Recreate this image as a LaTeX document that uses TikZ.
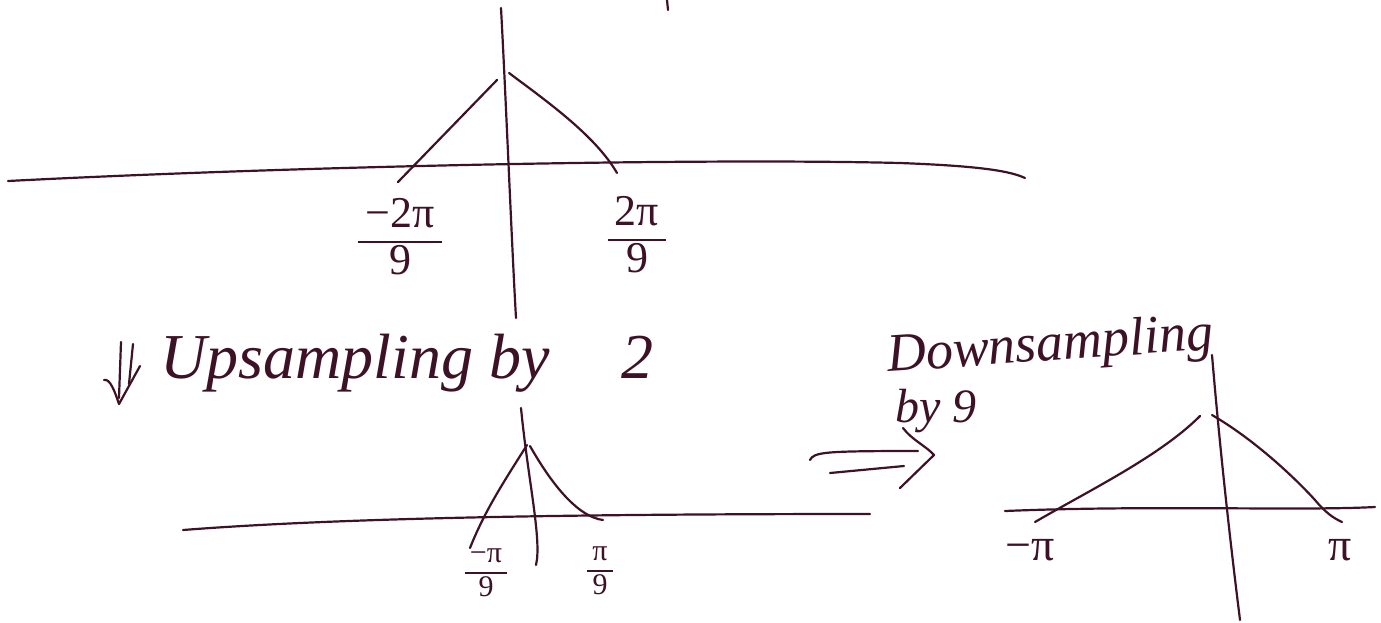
\documentclass[tikz,border=0pt]{standalone}
\usepackage{fontspec}
\setmainfont{Liberation Serif}
\definecolor{ink}{RGB}{62,18,38}
\newcommand\hfrac[2]{\setlength\arrayrulewidth{2pt}\renewcommand\arraystretch{0.95}\begin{tabular}{@{\,}c@{\,}}#1\\\hline #2\end{tabular}}
\begin{document}
\begin{tikzpicture}[x=1pt,y=-1pt,
  stroke/.style={draw=ink, line width=2.2pt, line cap=round, line join=round},
  lbl/.style={text=ink, inner sep=0pt},
  bigtext/.style={lbl, font=\fontsize{64}{70}\selectfont\itshape},
  midtext/.style={lbl, font=\fontsize{54}{60}\selectfont\itshape},
  smalltext/.style={lbl, font=\fontsize{48}{52}\selectfont\itshape},
  fracbig/.style={lbl, font=\fontsize{44}{48}\selectfont},
  fracsmall/.style={lbl, font=\fontsize{30}{34}\selectfont},
  pilbl/.style={lbl, font=\fontsize{46}{50}\selectfont}]
\useasboundingbox[fill=white] (0,0) rectangle (1381,622);

% ---------- top spectrum ----------
\coordinate (tl) at (8,181);
\coordinate (tr) at (1025,178);
\draw[stroke] (tl) .. controls (300,166) and (700,158) .. (900,163) .. controls (980,166) and (1010,171) .. (tr);
\coordinate (tvtop) at (501,8);
\coordinate (tvbot) at (516,318);
\draw[stroke] (tvtop) .. controls (506,100) and (512,250) .. (tvbot);
\coordinate (tapl) at (497,80);
\coordinate (tapr) at (509,73);
\coordinate (tleft) at (398,182);
\coordinate (tright) at (617,173);
\draw[stroke] (tapl) -- (tleft);
\draw[stroke] (tapr) .. controls (545,100) and (595,135) .. (tright);
\coordinate (mk1) at (667,0);
\coordinate (mk2) at (668,10);
\draw[stroke] (mk1) -- (mk2);
\node[fracbig] (lm2) at (400,242) {\hfrac{−2π}{9}};
\node[fracbig] (lp2) at (637,240) {\hfrac{2π}{9}};

% ---------- upsampling ----------
\coordinate (dl1) at (121,342);
\coordinate (dl2) at (119,398);
\coordinate (dr1) at (133,344);
\coordinate (dr2) at (129,384);
\coordinate (dtip) at (119,404);
\coordinate (dhl) at (104,380);
\coordinate (dhr) at (140,366);
\draw[stroke] (dl1) -- (dl2);
\draw[stroke] (dr1) -- (dr2);
\draw[stroke] (dhl) .. controls (110,378) and (115,392) .. (dtip) -- (dhr);
\node[bigtext, anchor=base west] (up) at (160,378) {Upsampling by\hspace{72pt}2};

% ---------- middle spectrum ----------
\coordinate (ml) at (183,530);
\coordinate (mr) at (870,514);
\draw[stroke] (ml) .. controls (350,517) and (600,514) .. (mr);
\coordinate (mvtop) at (521,408);
\coordinate (mvbot) at (536,565);
\draw[stroke] (mvtop) .. controls (528,480) and (542,540) .. (mvbot);
\coordinate (mapl) at (527,445);
\coordinate (mapr) at (530,446);
\coordinate (mleft) at (470,548);
\coordinate (mright) at (603,520);
\draw[stroke] (mapl) .. controls (505,480) and (485,510) .. (mleft);
\draw[stroke] (mapr) .. controls (555,490) and (580,517) .. (mright);
\node[fracsmall] (lm1) at (486,573) {\hfrac{−π}{9}};
\node[fracsmall] (lp1) at (600,571) {\hfrac{π}{9}};

% ---------- downsampling ----------
\coordinate (ru1) at (810,460);
\coordinate (ru2) at (918,451);
\coordinate (rd1) at (830,473);
\coordinate (rd2) at (904,466);
\coordinate (rtip) at (934,455);
\coordinate (rht) at (903,428);
\coordinate (rhb) at (900,488);
\draw[stroke] (ru1) .. controls (814,452) and (824,451) .. (ru2);
\draw[stroke] (rd1) -- (rd2);
\draw[stroke] (rht) .. controls (912,440) and (926,446) .. (rtip) -- (rhb);
\node[midtext, anchor=base west, rotate=4] (down) at (888,372) {Downsampling};
\node[smalltext, anchor=base west] (by9) at (895,422) {by 9};

% ---------- right spectrum ----------
\coordinate (rl) at (1005,511);
\coordinate (rr) at (1375,507);
\draw[stroke] (rl) .. controls (1150,505) and (1300,511) .. (rr);
\coordinate (rvtop) at (1212,355);
\coordinate (rvbot) at (1240,620);
\draw[stroke] (rvtop) .. controls (1220,450) and (1230,540) .. (rvbot);
\coordinate (rapl) at (1200,416);
\coordinate (rapr) at (1212,415);
\coordinate (rleft) at (1035,522);
\coordinate (rright) at (1342,522);
\draw[stroke] (rleft) .. controls (1090,490) and (1160,456) .. (rapl);
\draw[stroke] (rapr) .. controls (1255,440) and (1295,478) .. (1315,500) .. controls (1325,512) and (1333,518) .. (rright);
\node[pilbl] (rmpi) at (1030,550) {−π};
\node[pilbl] (rppi) at (1340,550) {π};
\end{tikzpicture}
\end{document}
